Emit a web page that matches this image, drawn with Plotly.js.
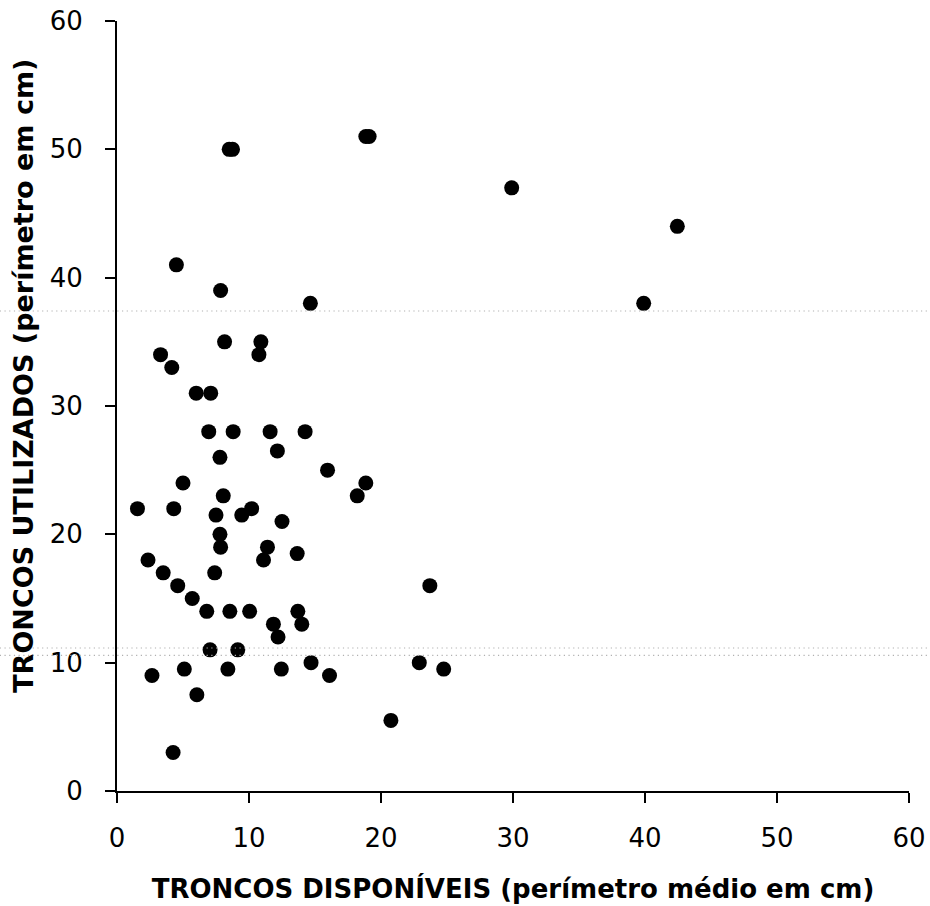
<!DOCTYPE html>
<html>
<head>
<meta charset="utf-8">
<script src="https://cdn.plot.ly/plotly-3.0.1.min.js"></script>
<style>
  html, body { margin: 0; padding: 0; background: #ffffff; }
  #chart { width: 930px; height: 906px; }
</style>
</head>
<body>
<div id="chart"></div>
<script>
// Mean perimeter of available trunks (cm) for each observation
const troncosDisponiveis = [
  8.5, 8.75, 18.85, 19.1, 29.9, 42.45, 4.5, 7.85, 14.65, 39.9,
  8.15, 10.9, 10.75, 3.3, 4.15, 6.0, 7.1, 6.95, 8.8, 11.6,
  14.25, 12.15, 7.8, 15.95, 18.85, 18.2, 5.0, 8.05, 1.55, 4.3,
  7.5, 9.45, 10.2, 12.5, 7.8, 7.85, 11.4, 11.1, 13.65, 2.35,
  7.4, 3.5, 4.6, 23.7, 5.7, 6.8, 8.55, 10.05, 13.7, 11.85,
  14.0, 12.2, 7.05, 9.15, 14.7, 22.9, 2.65, 5.1, 8.4, 12.45,
  16.1, 24.75, 6.05, 20.75, 4.25
];

// Perimeter of the trunks actually used (cm)
const troncosUtilizados = [
  50, 50, 51, 51, 47, 44, 41, 39, 38, 38,
  35, 35, 34, 34, 33, 31, 31, 28, 28, 28,
  28, 26.5, 26, 25, 24, 23, 24, 23, 22, 22,
  21.5, 21.5, 22, 21, 20, 19, 19, 18, 18.5, 18,
  17, 17, 16, 16, 15, 14, 14, 14, 14, 13,
  13, 12, 11, 11, 10, 10, 9, 9.5, 9.5, 9.5,
  9, 9.5, 7.5, 5.5, 3
];

const tickValues = [0, 10, 20, 30, 40, 50, 60];
const tickLabels = ['0', '10', '20', '30', '40', '50', '60'];

const xTitle = 'TRONCOS DISPONÍVEIS (perímetro médio em cm)';
const yTitle = 'TRONCOS UTILIZADOS (perímetro em cm)';

const tickFont = { family: 'DejaVu Sans, Arial, sans-serif', size: 26, color: '#000000' };
const titleFont = { family: 'DejaVu Sans, Arial, sans-serif', size: 26, color: '#000000', weight: 'bold' };

const trace = {
  type: 'scatter',
  mode: 'markers',
  x: troncosDisponiveis,
  y: troncosUtilizados,
  marker: { color: '#000000', size: 15, line: { width: 0 } },
  hoverinfo: 'x+y',
  showlegend: false
};

// faint dotted rules running across the page
function dottedRule(yPaper) {
  return {
    type: 'line', xref: 'paper', yref: 'paper',
    x0: -0.148, x1: 1.027, y0: yPaper, y1: yPaper,
    line: { color: '#b0b0b0', width: 1.2, dash: '1.2px,3.5px' },
    layer: 'above'
  };
}

const axisCommon = {
  range: [0, 60],
  tickmode: 'array',
  tickvals: tickValues,
  ticktext: tickLabels,
  ticks: 'outside',
  ticklen: 10,
  tickwidth: 2,
  tickcolor: '#000000',
  showline: true,
  linecolor: '#000000',
  linewidth: 2,
  showgrid: false,
  zeroline: false,
  mirror: false,
  tickfont: tickFont,
  fixedrange: true
};

const layout = {
  width: 930,
  height: 906,
  paper_bgcolor: '#ffffff',
  plot_bgcolor: '#ffffff',
  margin: { l: 117, r: 21, t: 21, b: 115 },
  xaxis: Object.assign({}, axisCommon, {
    ticklabelstandoff: 13,
    title: { text: xTitle, font: titleFont, standoff: 28 }
  }),
  yaxis: Object.assign({}, axisCommon, {
    ticklabelstandoff: 17
  }),
  annotations: [{
    text: yTitle,
    font: Object.assign({}, titleFont, { size: 27 }),
    textangle: -90,
    xref: 'paper', yref: 'paper',
    x: -0.118, y: 0.5386,
    xanchor: 'center', yanchor: 'middle',
    showarrow: false
  }],
  shapes: [dottedRule(0.6234), dottedRule(0.1857), dottedRule(0.1762)]
};

Plotly.newPlot('chart', [trace], layout, { displayModeBar: false, staticPlot: true });
</script>
</body>
</html>
